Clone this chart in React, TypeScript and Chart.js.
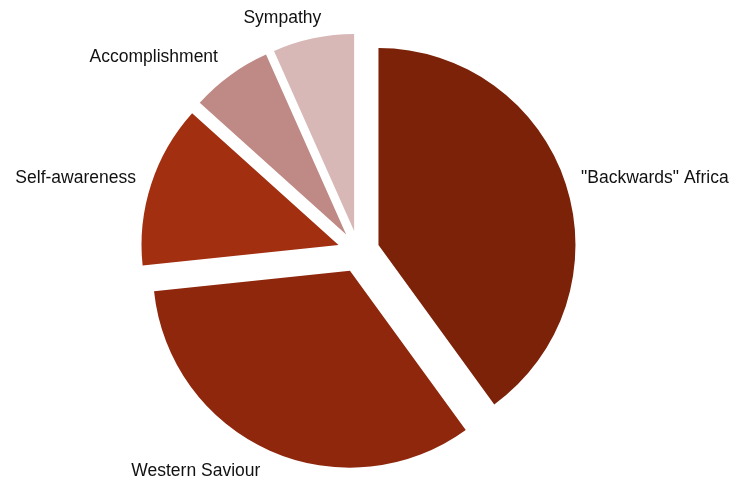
import React, { useEffect, useRef } from "react";
import { Chart, registerables } from "chart.js";

Chart.register(...registerables);

const categories = ['"Backwards" Africa', "Western Saviour", "Self-awareness", "Accomplishment", "Sympathy"];
const counts = [12, 10, 4, 2, 2];
const sliceColors = ["#7B2209", "#8F270D", "#A32F11", "#BF8985", "#D7B8B6"];

const EXPLODE = 21;
const RADIUS = 197;
const LABEL_GAP = 16;

// Draw every slice pushed out by the same distance along its mid-angle
const explodePlugin = {
  id: "uniformExplode",
  beforeDatasetDraw(chart: any, args: any) {
    const ctx = chart.ctx as CanvasRenderingContext2D;
    const meta = args.meta;
    meta.data.forEach((arc: any) => {
      const mid = (arc.startAngle + arc.endAngle) / 2;
      ctx.save();
      ctx.translate(Math.cos(mid) * EXPLODE, Math.sin(mid) * EXPLODE);
      arc.draw(ctx, chart.chartArea);
      ctx.restore();
    });
    return false;
  },
};

const labelPlugin = {
  id: "outerLabels",
  afterDatasetsDraw(chart: any) {
    const ctx = chart.ctx as CanvasRenderingContext2D;
    const meta = chart.getDatasetMeta(0);
    ctx.save();
    ctx.font = '17.5px "Liberation Sans", Arial, sans-serif';
    ctx.fillStyle = "#111111";
    ctx.textAlign = "left";
    ctx.textBaseline = "alphabetic";
    meta.data.forEach((arc: any, i: number) => {
      const { x, y, startAngle, endAngle, outerRadius } = arc.getProps(
        ["x", "y", "startAngle", "endAngle", "outerRadius"],
        true
      );
      const mid = (startAngle + endAngle) / 2;
      const c = Math.cos(mid);
      const s = Math.sin(mid);
      const dist = EXPLODE + outerRadius + LABEL_GAP;
      let px = x + c * dist;
      const py = y + s * dist;
      const text = String(chart.data.labels[i]);
      const w = ctx.measureText(text).width;
      const hf = Math.max(0, Math.min(1, 0.5 - c * 1.7));
      if (Math.abs(s) >= 0.5 && c < -0.3) px -= 3;
      const left = px - w * hf;
      let base: number;
      if (Math.abs(s) < 0.5) base = py + 4;
      else if (s < 0) base = py;
      else base = py + 11;
      ctx.fillText(text, left, base);
    });
    ctx.restore();
  },
};

export default function App() {
  const canvasRef = useRef<HTMLCanvasElement | null>(null);

  useEffect(() => {
    if (!canvasRef.current) return;
    const chart = new Chart(canvasRef.current, {
      type: "pie",
      data: {
        labels: categories,
        datasets: [
          {
            data: counts,
            backgroundColor: sliceColors,
            borderWidth: 0,
            radius: RADIUS,
            offset: 0,
            hoverOffset: 0,
          } as any,
        ],
      },
      options: {
        animation: false,
        responsive: true,
        maintainAspectRatio: false,
        events: [],
        layout: { padding: { left: 0, right: 13, top: 19, bottom: 0 } },
        plugins: {
          legend: { display: false },
          tooltip: { enabled: false },
        },
      },
      plugins: [explodePlugin, labelPlugin],
    });
    return () => chart.destroy();
  }, []);

  return (
    <div
      style={{
        position: "fixed",
        left: 0,
        top: 0,
        width: 730,
        height: 484,
        background: "#ffffff",
      }}
    >
      <canvas ref={canvasRef} />
    </div>
  );
}
